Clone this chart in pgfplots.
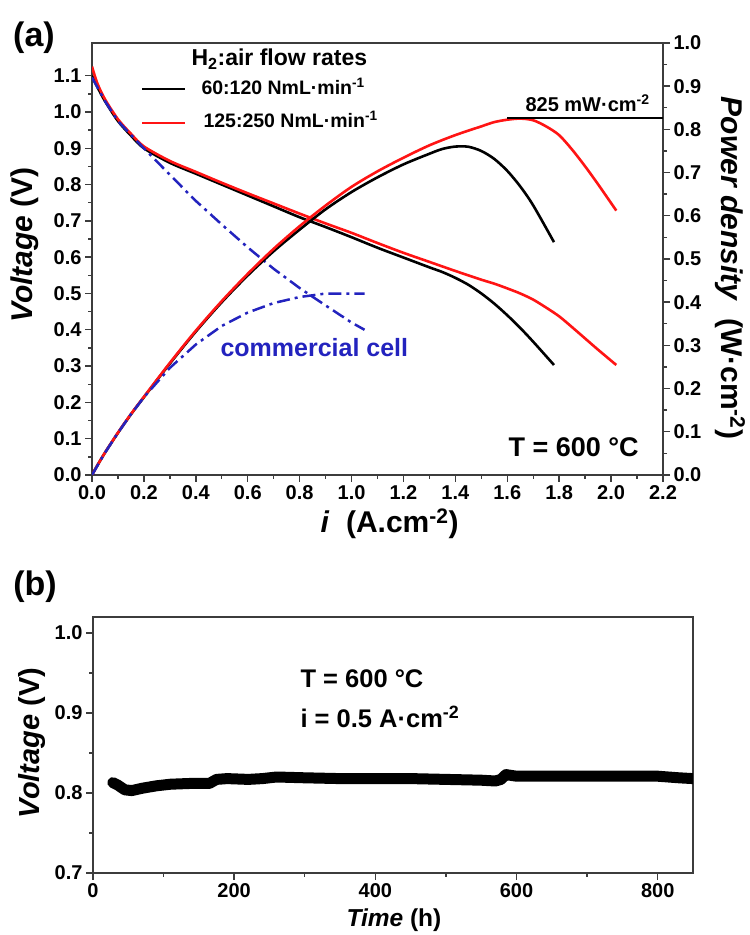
\documentclass[border=0pt]{standalone}
\usepackage{pgfplots}
\pgfplotsset{compat=1.18}
\usepackage{fontspec}
\setmainfont{Liberation Sans}
\definecolor{cblue}{RGB}{35,35,190}
\definecolor{cred}{RGB}{255,20,20}
\definecolor{axgray}{RGB}{60,60,60}
\newcommand{\fs}[1]{\fontsize{#1}{#1}\selectfont}
\pgfplotsset{
  mystyle/.style={
    scale only axis, anchor=south west,
    tick align=outside,
    major tick length=7pt, minor tick length=4pt,
    axis line style={line width=1.6pt, axgray},
    tick style={line width=1.4pt, axgray},
    tick label style={font=\fs{20}\bfseries, text=black},
    tick pos=left,
  },
}
\begin{document}
\begin{tikzpicture}[x=1pt,y=1pt]
\useasboundingbox (0pt,0pt) rectangle (750pt,935pt);
% ---------------- panel (a), voltage axis
\begin{axis}[mystyle, at={(92pt,460pt)}, width=571pt, height=432pt,
  xmin=0, xmax=2.2, ymin=0, ymax=1.19,
  xtick={0,0.2,0.4,0.6,0.8,1.0,1.2,1.4,1.6,1.8,2.0,2.2},
  xticklabels={0.0,0.2,0.4,0.6,0.8,1.0,1.2,1.4,1.6,1.8,2.0,2.2},
  ytick={0,0.1,0.2,0.3,0.4,0.5,0.6,0.7,0.8,0.9,1.0,1.1},
  yticklabels={0.0,0.1,0.2,0.3,0.4,0.5,0.6,0.7,0.8,0.9,1.0,1.1},
  minor x tick num=1, minor y tick num=1]
\addplot[black, line width=2.6pt, smooth] table {
i V
0 1.100
0.02 1.070
0.05 1.030
0.1 0.975
0.15 0.935
0.2 0.900
0.3 0.860
0.4 0.830
0.5 0.800
0.6 0.770
0.7 0.740
0.8 0.710
0.9 0.683
1.0 0.655
1.1 0.626
1.2 0.599
1.3 0.572
1.35 0.559
1.4 0.543
1.45 0.524
1.5 0.500
1.55 0.472
1.6 0.440
1.65 0.405
1.7 0.367
1.78 0.303
};
\addplot[cred, line width=2.6pt, smooth] table {
i V
0 1.125
0.02 1.080
0.05 1.035
0.1 0.980
0.15 0.940
0.2 0.905
0.3 0.865
0.4 0.835
0.5 0.805
0.6 0.776
0.7 0.748
0.8 0.720
0.9 0.693
1.0 0.667
1.1 0.639
1.2 0.612
1.3 0.587
1.4 0.562
1.5 0.538
1.55 0.527
1.6 0.514
1.65 0.500
1.7 0.483
1.75 0.461
1.8 0.437
1.85 0.407
1.9 0.376
1.95 0.345
2.02 0.303
};
\addplot[cblue, line width=2.5pt, dash pattern=on 13pt off 5pt on 3pt off 5pt] table {
i V
0 1.095
0.05 1.030
0.1 0.975
0.15 0.937
0.2 0.900
0.3 0.827
0.4 0.755
0.5 0.690
0.6 0.627
0.7 0.568
0.8 0.515
0.9 0.467
1.0 0.420
1.05 0.400
};
\end{axis}
% ---------------- panel (a), power axis
\begin{axis}[mystyle, at={(92pt,460pt)}, width=571pt, height=432pt,
  xmin=0, xmax=2.2, ymin=0, ymax=1.0,
  axis x line=none, axis y line*=right, ytick pos=right,
  ytick={0,0.1,0.2,0.3,0.4,0.5,0.6,0.7,0.8,0.9,1.0},
  yticklabels={0.0,0.1,0.2,0.3,0.4,0.5,0.6,0.7,0.8,0.9,1.0},
  minor y tick num=1]
\addplot[black, line width=2.6pt, smooth] table {
i P
0 0
0.02 0.0214
0.05 0.0515
0.1 0.0975
0.15 0.1403
0.2 0.180
0.3 0.258
0.4 0.332
0.5 0.400
0.6 0.462
0.7 0.518
0.8 0.568
0.9 0.615
1.0 0.655
1.1 0.689
1.2 0.719
1.3 0.7436
1.35 0.7547
1.4 0.7602
1.45 0.7598
1.5 0.750
1.55 0.7316
1.6 0.704
1.65 0.668
1.7 0.624
1.78 0.539
};
\addplot[cred, line width=2.6pt, smooth] table {
i P
0 0
0.02 0.0216
0.05 0.0518
0.1 0.098
0.15 0.141
0.2 0.181
0.3 0.2595
0.4 0.334
0.5 0.4025
0.6 0.4656
0.7 0.5236
0.8 0.576
0.9 0.6237
1.0 0.667
1.1 0.7029
1.2 0.7344
1.3 0.7631
1.4 0.7868
1.5 0.807
1.55 0.8169
1.6 0.8224
1.65 0.825
1.7 0.8211
1.75 0.8068
1.8 0.7866
1.85 0.7530
1.9 0.7144
1.95 0.6728
2.02 0.612
};
\addplot[cblue, line width=2.5pt, dash pattern=on 13pt off 5pt on 3pt off 5pt] table {
i P
0 0
0.05 0.0515
0.1 0.0975
0.15 0.1406
0.2 0.180
0.3 0.248
0.4 0.302
0.5 0.345
0.6 0.376
0.7 0.398
0.8 0.412
0.9 0.420
1.0 0.420
1.05 0.420
};
\addplot[black, line width=1.5pt] coordinates {(1.6,0.826) (2.2,0.826)};
\end{axis}
% ---------------- panel (b)
\begin{axis}[mystyle, at={(93pt,62pt)}, width=600pt, height=256pt,
  xmin=0, xmax=850, ymin=0.7, ymax=1.02,
  xtick={0,200,400,600,800}, xticklabels={0,200,400,600,800},
  ytick={0.7,0.8,0.9,1.0}, yticklabels={0.7,0.8,0.9,1.0},
  minor x tick num=1, minor y tick num=1]
\addplot[black, line width=11pt, line join=round, line cap=round] table {
t V
28 0.813
35 0.810
45 0.804
55 0.803
70 0.806
90 0.809
110 0.811
140 0.812
165 0.812
175 0.817
190 0.818
220 0.817
240 0.818
260 0.820
300 0.819
350 0.818
400 0.818
450 0.818
500 0.817
550 0.816
570 0.815
578 0.817
585 0.823
600 0.821
650 0.821
700 0.821
750 0.821
800 0.821
830 0.819
850 0.818
};
\end{axis}
% ---------------- texts
\node[font=\fs{34}\bfseries] at (34pt,897pt) {(a)};
\node[font=\fs{34}\bfseries] at (35pt,348pt) {(b)};
\node[rotate=90, font=\fs{30}\bfseries] at (25pt,690pt) {\textit{Voltage} (V)};
\node[rotate=-90, font=\fs{30}\bfseries] at (730pt,667pt) {\textit{Power density}\ \ (W·cm\textsuperscript{-2})};
\node[anchor=base west, font=\fs{30}\bfseries] at (317pt,402pt) {\textit{i}\ \ (A.cm\textsuperscript{-2})};
\node[anchor=base west, font=\fs{27}\bfseries] at (505pt,478pt) {T = 600 °C};
\node[anchor=base west, font=\fs{25}\bfseries, text=cblue] at (217pt,578pt) {commercial cell};
\node[anchor=base west, font=\fs{20}\bfseries] at (522pt,823pt) {825 mW·cm\textsuperscript{-2}};
\node[anchor=base west, font=\fs{23}\bfseries] at (188pt,869pt) {H\textsubscript{2}:air flow rates};
\draw[black, line width=2.6pt] (142pt,846pt) -- (185pt,846pt);
\node[anchor=base west, font=\fs{19.5}\bfseries] at (198pt,840pt) {60:120 NmL·min\textsuperscript{-1}};
\draw[cred, line width=2.6pt] (142pt,812pt) -- (185pt,812pt);
\node[anchor=base west, font=\fs{19.5}\bfseries] at (200pt,807pt) {125:250 NmL·min\textsuperscript{-1}};
\node[rotate=90, font=\fs{29}\bfseries] at (32pt,192pt) {\textit{Voltage} (V)};
\node[anchor=base west, font=\fs{24.5}\bfseries] at (343pt,9pt) {\textit{Time} (h)};
\node[anchor=west, font=\fs{25.5}\bfseries] at (297pt,256pt) {T = 600 °C};
\node[anchor=west, font=\fs{25.5}\bfseries] at (297pt,218pt) {i = 0.5 A·cm\textsuperscript{-2}};
\end{tikzpicture}
\end{document}
